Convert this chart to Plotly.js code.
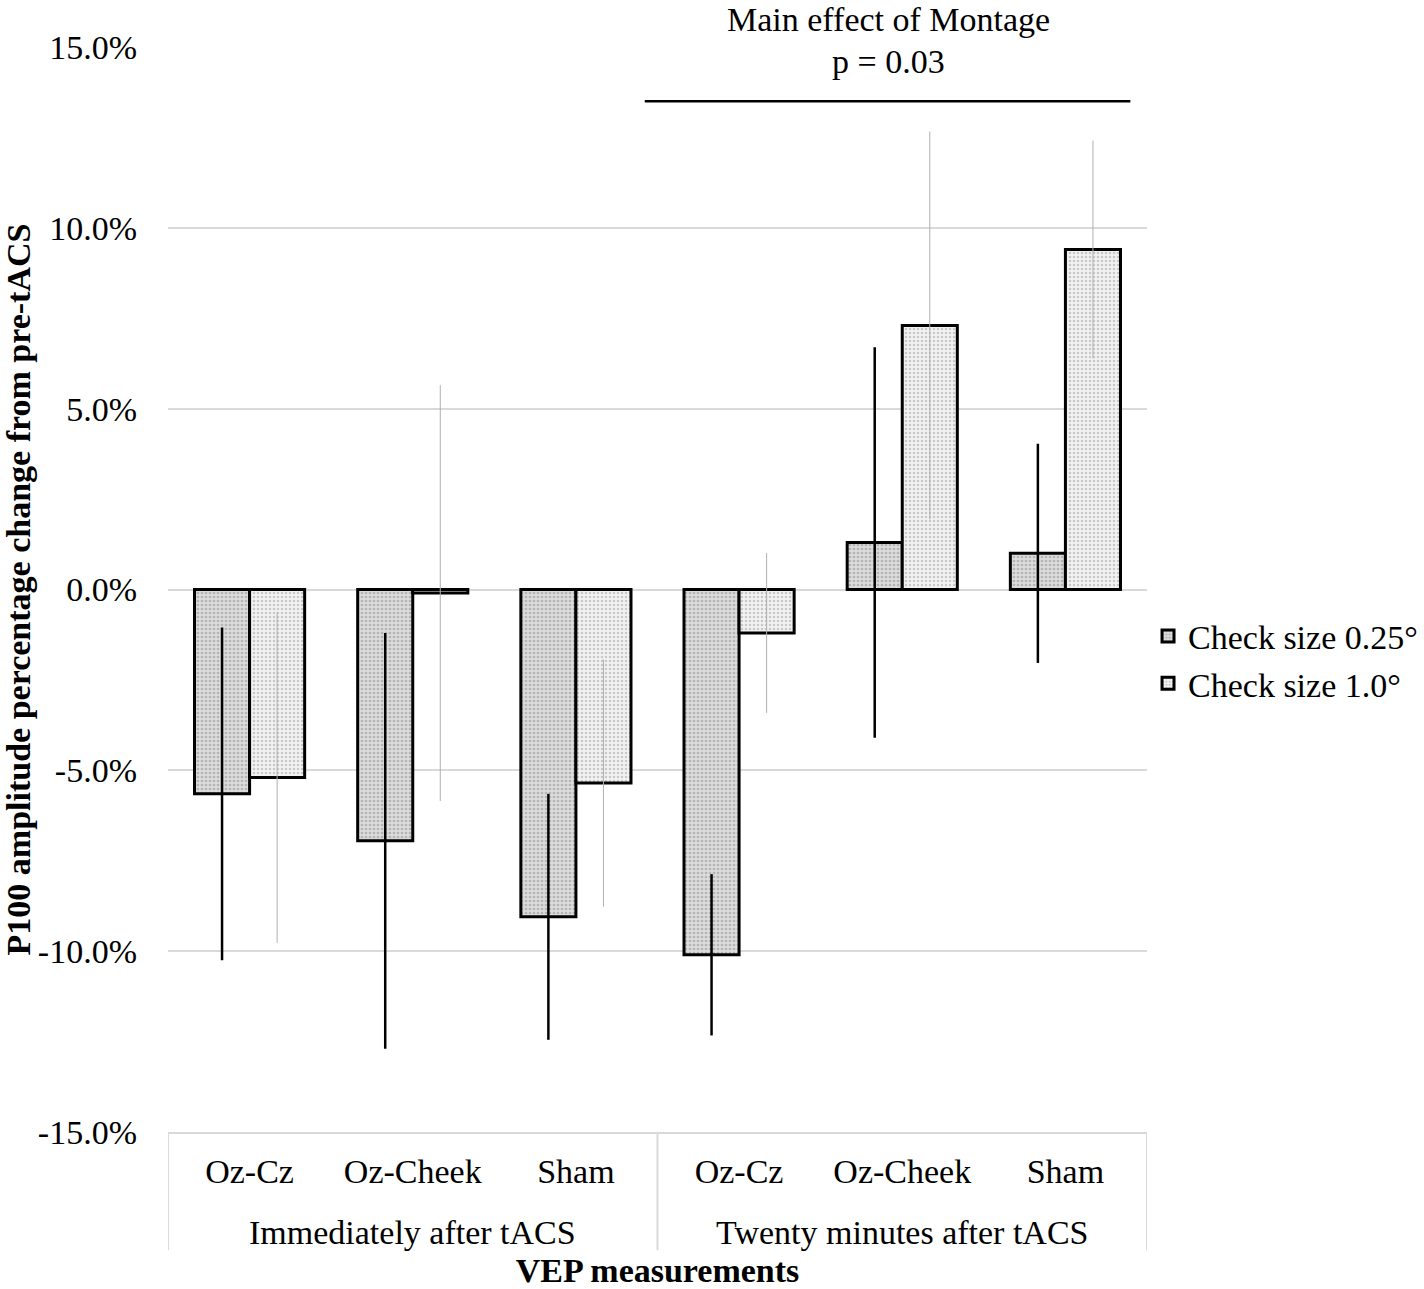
<!DOCTYPE html>
<html>
<head>
<meta charset="utf-8">
<script src="https://cdn.plot.ly/plotly-3.0.1.min.js"></script>
<style>html,body{margin:0;padding:0;background:#fff;}#chart{width:1424px;height:1289px;}</style>
</head>
<body>
<div id="chart"></div>
<script>
// ---- data ----
const timepointGroups = ["Immediately after tACS", "Twenty minutes after tACS"];
const montages = ["Oz-Cz","Oz-Cheek","Sham","Oz-Cz","Oz-Cheek","Sham"];
const seriesNames = ["Check size 0.25°","Check size 1.0°"];
const check025 = [-5.65, -6.95, -9.05, -10.1, 1.3, 1.0];
const check025Err = [4.6, 5.75, 3.4, 2.23, 5.4, 3.03];
const check10 = [-5.2, -0.1, -5.35, -1.2, 7.3, 9.4];
const check10Err = [4.57, 5.75, 3.42, 2.21, 5.36, 3.01];
const tickVals = [-15, -10, -5, 0, 5, 10, 15];
const tickText = ["-15.0%","-10.0%","-5.0%","0.0%","5.0%","10.0%","15.0%"];
const annoLines = ["Main effect of Montage","p = 0.03"];
const sigLineY = 13.5;

const FONT = "Liberation Serif, Times New Roman, serif";
const FS = 34;
const perGroup = montages.length / timepointGroups.length;
const xIdx = montages.map((_, i) => i);

const traces = [
  {
    type: "bar", name: seriesNames[0],
    x: xIdx, y: check025,
    marker: {color: "#dcdcdc", line: {color: "#000", width: 3},
             pattern: {shape: ".", fgcolor: "#b4b4b4", bgcolor: "#dcdcdc", size: 4, solidity: 0.35}},
    error_y: {type: "data", array: check025Err, visible: true, color: "#000", thickness: 2.5, width: 0}
  },
  {
    type: "bar", name: seriesNames[1],
    x: xIdx, y: check10,
    marker: {color: "#efefef", line: {color: "#000", width: 3},
             pattern: {shape: ".", fgcolor: "#c8c8c8", bgcolor: "#f2f2f2", size: 4, solidity: 0.3}},
    error_y: {type: "data", array: check10Err, visible: true, color: "#b0b0b0", thickness: 1, width: 0}
  }
];

// group labels and dividers derived from grouping
const annotations = [
  {text: annoLines[0], xref: "paper", yref: "paper", x: 0.7355, y: 1.025, xanchor: "center", yanchor: "middle",
   showarrow: false, font: {family: FONT, size: FS, color: "#000"}},
  {text: annoLines[1], xref: "paper", yref: "paper", x: 0.7355, y: 0.9865, xanchor: "center", yanchor: "middle",
   showarrow: false, font: {family: FONT, size: FS, color: "#000"}}
];
timepointGroups.forEach((g, k) => {
  annotations.push({text: g, xref: "x", yref: "paper", x: k * perGroup + (perGroup - 1) / 2, y: -0.0922,
    xanchor: "center", yanchor: "middle", showarrow: false, font: {family: FONT, size: FS, color: "#000"}});
});
const shapes = [
  {type: "line", xref: "paper", yref: "y", x0: 0.487, x1: 0.983, y0: sigLineY, y1: sigLineY,
   line: {color: "#000", width: 2.5}}
];
for (let k = 0; k <= timepointGroups.length; k++) {
  const xv = k * perGroup - 0.5;
  shapes.push({type: "line", xref: "x", yref: "paper", x0: xv, x1: xv, y0: 0, y1: -0.109,
    line: {color: "#d9d9d9", width: 2}});
}

const layout = {
  width: 1424, height: 1289,
  margin: {l: 168, r: 277, t: 47, b: 157},
  paper_bgcolor: "#fff", plot_bgcolor: "#fff",
  font: {family: FONT, size: FS, color: "#000"},
  showlegend: true,
  legend: {xref: "container", yref: "container", x: 0.8062, xanchor: "left", y: 0.488, yanchor: "middle",
           font: {family: FONT, size: FS, color: "#000"}, bgcolor: "rgba(0,0,0,0)",
           itemwidth: 30, tracegroupgap: 0},
  bargap: 0.325, bargroupgap: 0, barmode: "group",
  xaxis: {
    range: [-0.5, montages.length - 0.5],
    tickvals: xIdx, ticktext: montages,
    showgrid: false, showline: true, linecolor: "#d9d9d9", linewidth: 2, zeroline: false,
    ticks: "", ticklabelstandoff: 8, tickfont: {family: FONT, size: FS, color: "#000"},
    title: {text: "<b>VEP measurements</b>", font: {family: FONT, size: FS, color: "#000"}, standoff: 70},
    automargin: false, fixedrange: true
  },
  yaxis: {
    range: [-15, 15], tickvals: tickVals, ticktext: tickText,
    showgrid: true, gridcolor: "#d9d9d9", gridwidth: 2,
    zeroline: false, showline: false, ticks: "",
    ticklabelstandoff: 30,
    tickfont: {family: FONT, size: FS, color: "#000"},
    title: {text: "<b>P100 amplitude percentage change from pre-tACS</b>",
            font: {family: FONT, size: FS, color: "#000"}, standoff: 4},
    automargin: false, fixedrange: true
  },
  annotations: annotations,
  shapes: shapes
};

Plotly.newPlot("chart", traces, layout, {displayModeBar: false, staticPlot: true});
</script>
</body>
</html>
